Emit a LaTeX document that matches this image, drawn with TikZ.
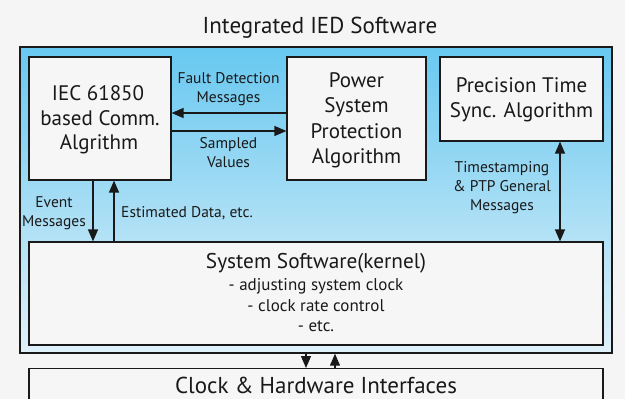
\documentclass[tikz,border=0pt]{standalone}
\usepackage{fontspec}
\setmainfont{PT Sans}
\usetikzlibrary{arrows.meta}
\definecolor{pagebg}{RGB}{245,245,245}
\definecolor{boxfill}{RGB}{246,246,246}
\definecolor{skytop}{RGB}{104,200,240}
\definecolor{skybot}{RGB}{224,241,249}
\definecolor{edge}{RGB}{25,25,25}
\definecolor{ink}{RGB}{25,25,25}
\tikzset{
  block/.style={draw=edge, line width=1.2pt, fill=boxfill, inner sep=0pt},
  line/.style={text=ink, inner sep=0pt, anchor=base},
  big/.style={line, font=\fontsize{23}{27}\selectfont},
  boxtext/.style={line, font=\fontsize{21}{25}\selectfont},
  tag/.style={line, font=\fontsize{15.5}{19}\selectfont},
  sub/.style={line, font=\fontsize{17}{20}\selectfont},
  flow/.style={draw=edge, line width=1.3pt, -{Triangle[length=12pt,width=10pt]}},
  twoway/.style={draw=edge, line width=1.3pt, {Triangle[length=12pt,width=10pt]}-{Triangle[length=12pt,width=10pt]}}
}
\begin{document}
\begin{tikzpicture}[x=1pt,y=-1pt]
\useasboundingbox (0,0) rectangle (625,399);
\clip (0,0) rectangle (625,399);
\fill[pagebg] (0,0) rectangle (625,399);

% title of the software stack
\node[big] (title) at (320,33.5) {Integrated IED Software};

% blue container
\node[draw=edge, line width=1.4pt, top color=skytop, bottom color=skybot,
      minimum width=592pt, minimum height=306pt, inner sep=0pt] (ied) at (316,200) {};

% upper blocks
\node[block, minimum width=142pt, minimum height=123pt] (comm) at (100,118.5) {};
\node[boxtext] (comm1) at (98,100.5) {IEC 61850};
\node[boxtext] (comm2) at (100,125) {based Comm.};
\node[boxtext] (comm3) at (99,149.5) {Algrithm};

\node[block, minimum width=139pt, minimum height=123pt] (prot) at (356.5,118.5) {};
\node[boxtext] (prot1) at (356.5,87) {Power};
\node[boxtext] (prot2) at (356.5,112.5) {System};
\node[boxtext] (prot3) at (356.5,138) {Protection};
\node[boxtext] (prot4) at (356.5,163.5) {Algorithm};

\node[block, minimum width=163pt, minimum height=84pt] (sync) at (521.5,99) {};
\node[boxtext] (sync1) at (521.5,92.5) {Precision Time};
\node[boxtext] (sync2) at (521.5,117.5) {Sync. Algorithm};

% kernel block
\node[block, minimum width=574pt, minimum height=103pt] (kern) at (316,293.5) {};
\node[line, font=\fontsize{21.3}{25}\selectfont] (kname) at (316,268.5) {System Software(kernel)};
\node[sub] (kl1) at (316,290.5) {- adjusting system clock};
\node[sub] (kl2) at (316,311.5) {- clock rate control};
\node[sub] (kl3) at (316,331.5) {- etc.};

% hardware block
\node[block, minimum width=574pt, minimum height=50pt, anchor=north] (hw) at (316,368) {};
\node[big] (hwname) at (316,393) {Clock \& Hardware Interfaces};

% messages between communication and protection
\draw[flow] ([yshift=5.5pt]prot.west) -- ([yshift=5.5pt]comm.east);
\draw[flow] ([yshift=-12.5pt]comm.east) -- ([yshift=-12.5pt]prot.west);
\node[tag] (fdm1) at (228.5,83.5) {Fault Detection};
\node[tag] (fdm2) at (228.5,102.5) {Messages};
\node[tag] (smv1) at (228.5,148.5) {Sampled};
\node[tag] (smv2) at (228.5,167.5) {Values};

% messages to and from the kernel
\draw[flow] (comm.south -| 93,0) -- (kern.north -| 93,0);
\draw[flow] (kern.north -| 114,0) -- (comm.south -| 114,0);
\node[tag] (evt1) at (54,207) {Event};
\node[tag] (evt2) at (54,226) {Messages};
\node[tag, anchor=base west] (est) at (121,217) {Estimated Data, etc.};

\draw[twoway] (sync.south -| 560,0) -- (kern.north -| 560,0);
\node[tag] (ptp1) at (502,172) {Timestamping};
\node[tag] (ptp2) at (502,191.5) {\& PTP General};
\node[tag] (ptp3) at (502,210.5) {Messages};

% kernel to hardware
\draw[flow] (ied.south -| 306,0) -- (hw.north -| 306,0);
\draw[flow] (hw.north -| 335,0) -- (ied.south -| 335,0);
\end{tikzpicture}
\end{document}
